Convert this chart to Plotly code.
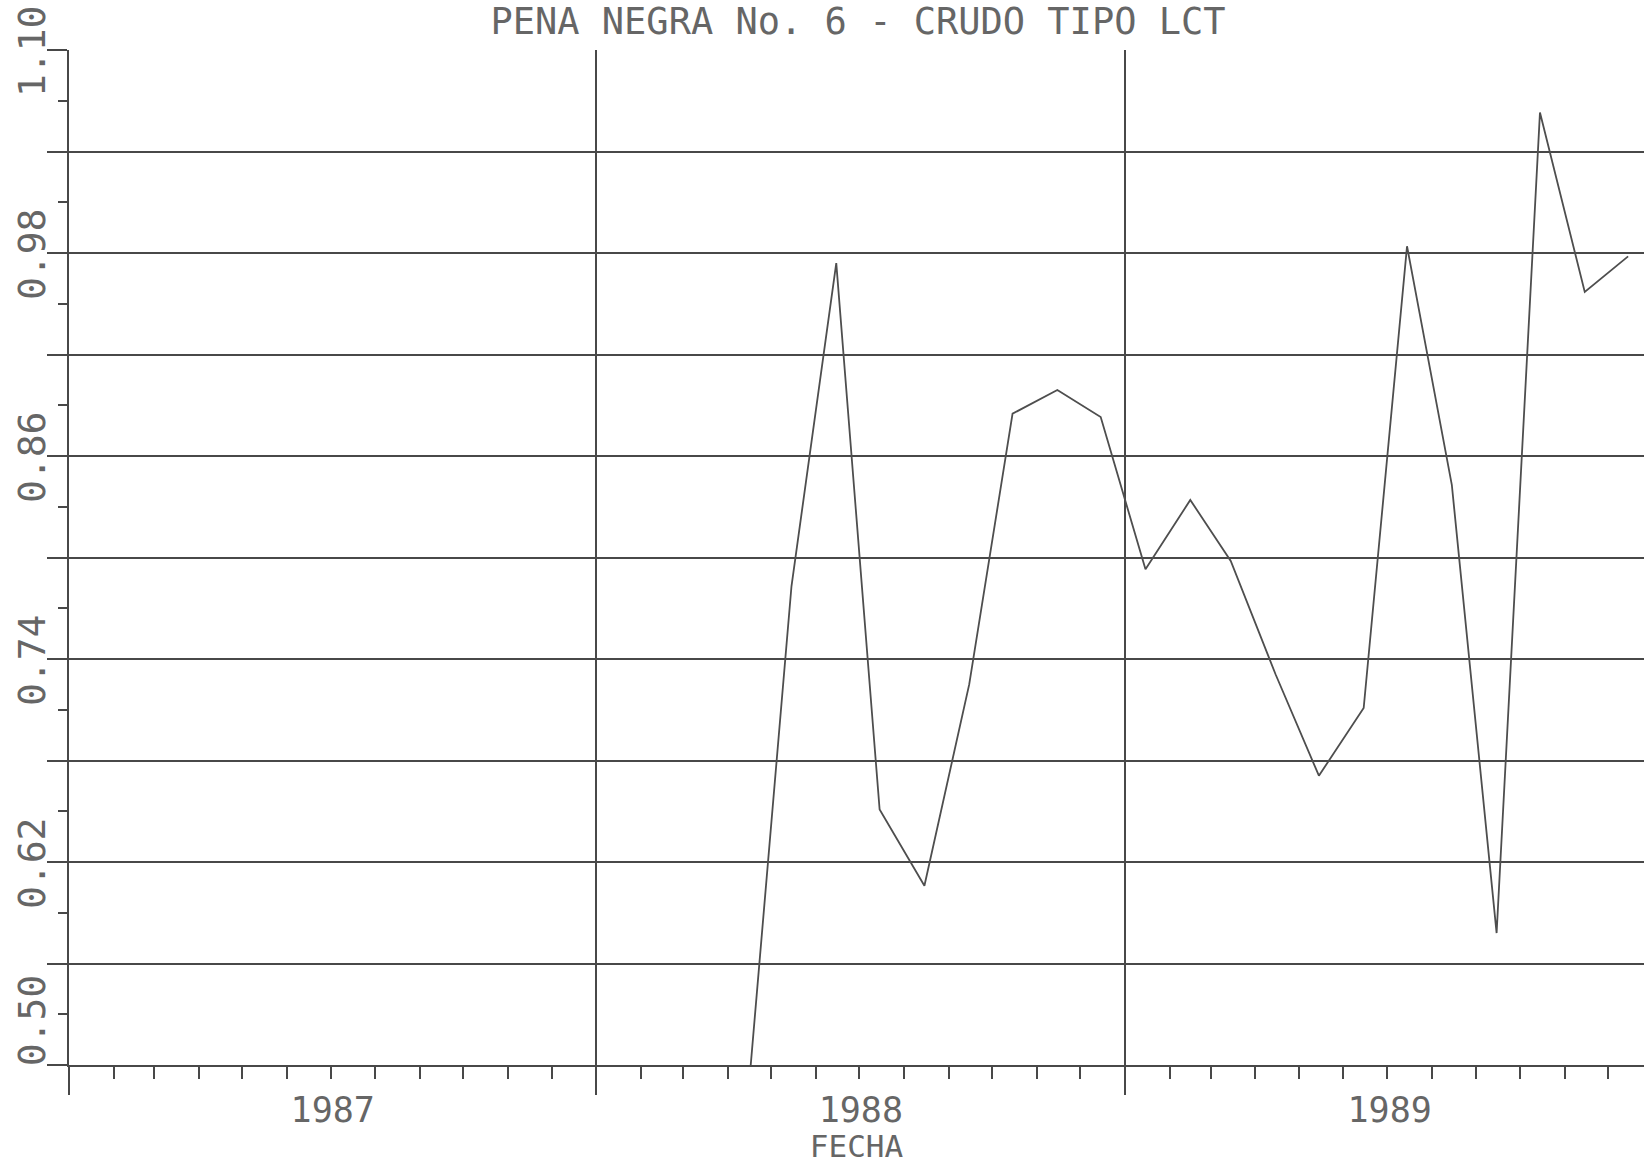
import plotly.graph_objects as go

# ---- data ----
fechas = [
    "1988-04-15", "1988-05-15", "1988-06-15", "1988-07-15", "1988-08-15",
    "1988-09-15", "1988-10-15", "1988-11-15", "1988-12-15",
    "1989-01-15", "1989-02-15", "1989-03-15", "1989-04-15", "1989-05-15",
    "1989-06-15", "1989-07-15", "1989-08-15", "1989-09-15", "1989-10-15",
    "1989-11-15", "1989-12-15",
]
valores = [
    0.482, 0.783, 0.974, 0.651, 0.606, 0.725, 0.885, 0.899, 0.883,
    0.793, 0.834, 0.798, 0.731, 0.671, 0.711, 0.984, 0.843, 0.578,
    1.063, 0.957, 0.978,
]
y_tickvals = [0.50, 0.56, 0.62, 0.68, 0.74, 0.80, 0.86, 0.92, 0.98, 1.04, 1.10]
# the bottom label sits above the axis corner in the reference (padded with no-break spaces)
y_ticktext = ["\u00a0\u00a0\u00a0\u00a00.50", "", "0.62", "", "0.74", "", "0.86", "",
              "0.98", "", "1.10"]
titulo = "PENA NEGRA No. 6 - CRUDO TIPO LCT"
x_titulo = "FECHA"

INK = "#484848"
TXT = "#666666"
FONT = "DejaVu Sans Mono"

fig = go.Figure()
fig.add_trace(go.Scatter(
    x=fechas, y=valores, mode="lines",
    line=dict(color="#4e4e4e", width=1.8),
    showlegend=False,
))

fig.update_layout(
    width=1644, height=1164,
    margin=dict(l=69, r=0, t=50, b=99, autoexpand=False),
    paper_bgcolor="white", plot_bgcolor="white",
    font=dict(family=FONT, color=TXT),
    title=dict(
        text=titulo, x=858 / 1644, xanchor="center", xref="container",
        y=1 - 21 / 1164, yanchor="middle", yref="container",
        font=dict(family=FONT, size=37, color=TXT),
    ),
)

fig.update_xaxes(
    type="date",
    automargin=False,
    range=["1987-01-01", "1989-12-26"],
    tick0="1987-01-01", dtick="M12",
    ticklabelmode="period", tickformat="%Y",
    ticks="outside", ticklen=28, tickwidth=2, tickcolor=INK,
    showgrid=True, gridcolor=INK, gridwidth=1.8,
    showline=True, linecolor=INK, linewidth=2.2,
    zeroline=False,
    ticklabelstandoff=-15,
    tickfont=dict(family=FONT, size=35, color=TXT),
    minor=dict(dtick="M1", tick0="1987-01-01", ticks="outside", ticklen=12,
               tickwidth=1.7, tickcolor=INK, showgrid=False),
    title=dict(text=x_titulo, standoff=4,
               font=dict(family=FONT, size=31, color=TXT)),
)

fig.update_yaxes(
    automargin=False,
    range=[0.50, 1.10],
    tickmode="array", tickvals=y_tickvals, ticktext=y_ticktext,
    tickangle=-90,
    ticks="outside", ticklen=20, tickwidth=2, tickcolor=INK,
    showgrid=True, gridcolor=INK, gridwidth=1.8,
    showline=True, linecolor=INK, linewidth=2.2,
    zeroline=False,
    ticklabelstandoff=-13,
    ticklabelshift=7,
    ticklabeloverflow="allow",
    tickfont=dict(family=FONT, size=38, color=TXT),
    minor=dict(tickmode="linear", tick0=0.50, dtick=0.03, ticks="outside",
               ticklen=9, tickwidth=1.7, tickcolor=INK, showgrid=False),
)

fig.write_html("out.html")
